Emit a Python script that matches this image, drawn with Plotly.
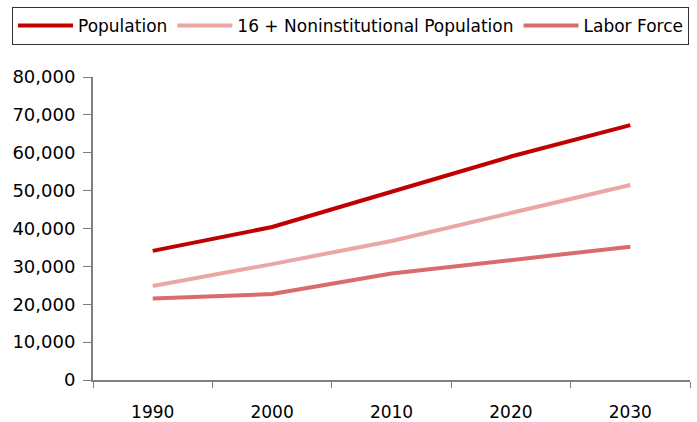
import plotly.graph_objects as go

years = ["1990", "2000", "2010", "2020", "2030"]
population = [34100, 40400, 49700, 59000, 67300]
noninst16 = [24800, 30600, 36700, 44000, 51500]
labor_force = [21500, 22700, 28100, 31600, 35200]

names = ["Population", "16 + Noninstitutional Population", "Labor Force"]
colors = ["#C00000", "#EBA6A6", "#D96B6B"]
series = [population, noninst16, labor_force]

fig = go.Figure()
for n, c, s in zip(names, colors, series):
    fig.add_trace(go.Scatter(x=years, y=s, name=n, mode="lines",
                             line=dict(color=c, width=4)))

L, R, T, B = 93, 7, 77, 42
W, H = 697, 422
pw, ph = W - L - R, H - T - B

fig.update_layout(
    width=W, height=H,
    margin=dict(l=L, r=R, t=T, b=B, autoexpand=False),
    paper_bgcolor="white", plot_bgcolor="white",
    font=dict(family="DejaVu Sans", size=17, color="black"),
    showlegend=True,
    legend=dict(orientation="h", x=(12 - L) / pw, xanchor="left",
                y=(H - B - 7) / ph, yanchor="top",
                bordercolor="#333333", borderwidth=1, font=dict(size=17),
                itemwidth=55, entrywidth=0),
    xaxis=dict(type="category", range=[-0.5, 4.5], tickson="boundaries",
               ticks="outside", ticklen=6, tickcolor="#7f7f7f",
               showline=True, linecolor="#7f7f7f", linewidth=2,
               showgrid=False, zeroline=False, ticklabelstandoff=16,
               tickfont=dict(size=17)),
    yaxis=dict(range=[0, 80000], dtick=10000, tickformat=",d",
               ticks="outside", ticklen=8, tickcolor="#7f7f7f",
               showline=True, linecolor="#7f7f7f", linewidth=2,
               showgrid=False, zeroline=False, tickfont=dict(size=18),
               ticklabelstandoff=4),
)

fig.write_html("out.html")
